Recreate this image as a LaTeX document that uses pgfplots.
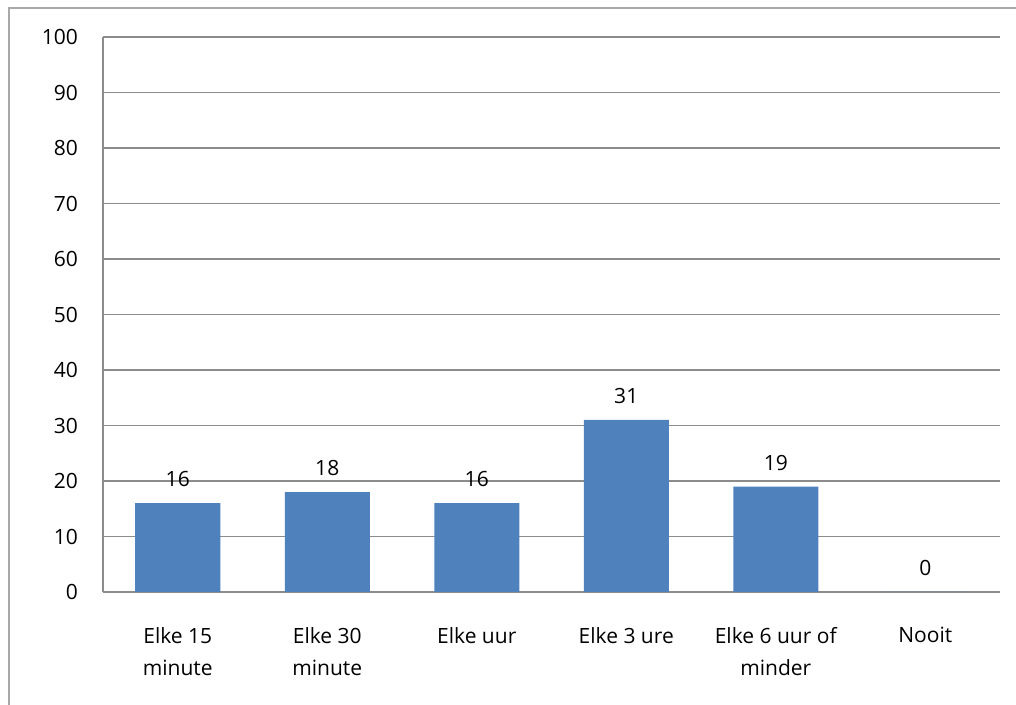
\documentclass[border=0pt]{standalone}
\usepackage{pgfplots}
\pgfplotsset{compat=1.18}
\usepackage{fontspec}
\setmainfont{Open Sans}
\definecolor{barblue}{HTML}{4F81BD}
\definecolor{gridgray}{HTML}{8C8C8C}
\definecolor{framegray}{HTML}{A8A8A8}
\begin{document}
\begin{tikzpicture}
\useasboundingbox (0,0) rectangle (508pt,352.5pt);
\draw[framegray, line width=1.1pt] (4.5pt,0pt) -- (4.5pt,348.5pt) -- (520pt,348.5pt);
\begin{axis}[
  at={(51.5pt,56.5pt)}, anchor=south west,
  scale only axis, width=448.5pt, height=277.5pt,
  xmin=-0.5, xmax=5.5, ymin=0, ymax=100,
  ytick={0,10,...,100},
  xtick={0,1,2,3,4,5},
  xticklabels={Elke 15\\minute, Elke 30\\minute, Elke uur, Elke 3 ure, Elke 6 uur of\\minder, Nooit},
  xticklabel style={align=center, font=\fontsize{10.5}{16}\selectfont, yshift=-14pt},
  yticklabel style={font=\fontsize{10.5}{12}\selectfont, xshift=-9pt},
  /pgf/number format/assume math mode=true,
  ymajorgrids, grid style={gridgray, line width=0.8pt},
  axis x line*=bottom, axis y line*=left,
  axis line style={gridgray, line width=0.9pt, -},
  major tick length=0pt,
  ybar, bar width=42.5pt,
  nodes near coords,
  nodes near coords style={font=\fontsize{10.5}{12}\selectfont, yshift=4.5pt},
]
\addplot[fill=barblue, draw=none] coordinates {(0,16) (1,18) (2,16) (3,31) (4,19) (5,0)};
\end{axis}
\end{tikzpicture}
\end{document}
